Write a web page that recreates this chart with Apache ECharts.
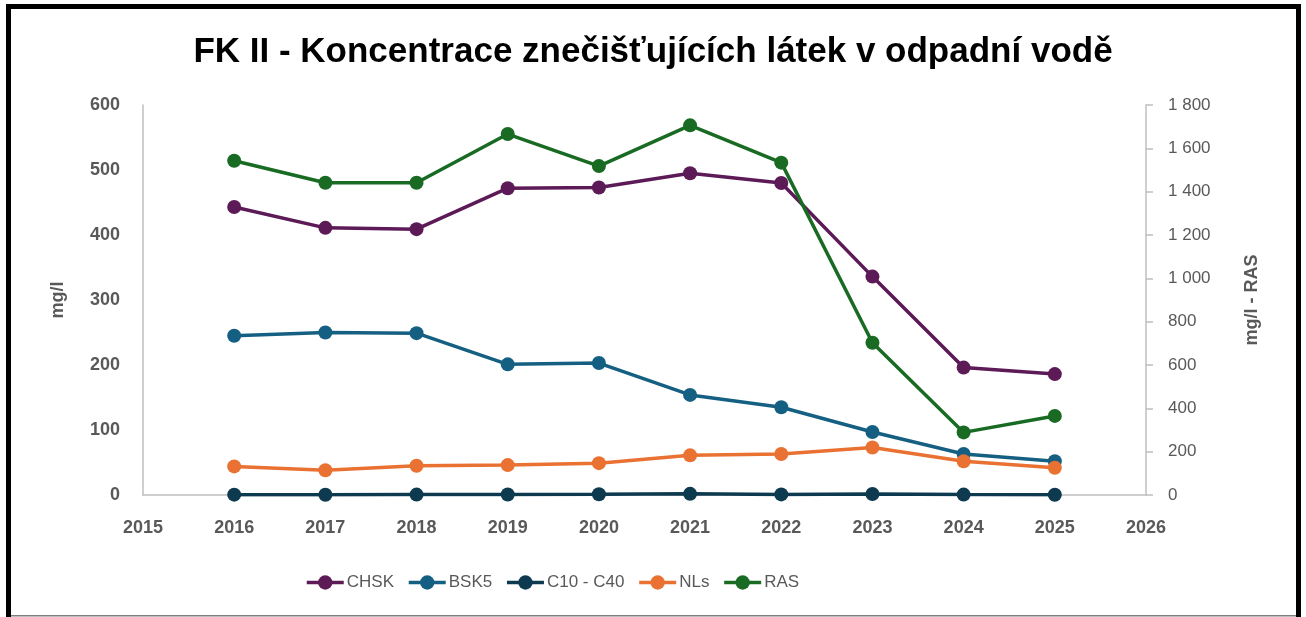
<!DOCTYPE html>
<html>
<head>
<meta charset="utf-8">
<script src="https://cdn.jsdelivr.net/npm/echarts@6/dist/echarts.min.js"></script>
<style>
html,body{margin:0;padding:0;background:#fff;}
#chart{width:1306px;height:617px;}
</style>
</head>
<body>
<div id="chart"></div>
<script>
const years = [2016, 2017, 2018, 2019, 2020, 2021, 2022, 2023, 2024, 2025];
const chsk = [443, 411, 409, 472, 473, 495, 480, 336, 196, 186];
const bsk5 = [245, 250, 249, 201, 203, 154, 135, 97, 63, 52];
const c10c40 = [0.5, 0.4, 0.6, 0.8, 1.2, 1.8, 0.9, 1.5, 0.6, 0.4];
const nls = [44, 38, 45, 46, 49, 61, 63, 73, 52, 42];
const ras = [1543, 1441, 1441, 1666, 1518, 1706, 1534, 703, 289, 365];

const seriesDefs = [
  { name: 'CHSK', data: chsk, color: '#5C1A57', axis: 0 },
  { name: 'BSK5', data: bsk5, color: '#156082', axis: 0 },
  { name: 'C10 - C40', data: c10c40, color: '#0E3A50', axis: 0 },
  { name: 'NLs', data: nls, color: '#E97132', axis: 0 },
  { name: 'RAS', data: ras, color: '#196B24', axis: 1 }
];

const font = 'Liberation Sans, Arial, sans-serif';
const gray = '#595959';

const chart = echarts.init(document.getElementById('chart'), null, { renderer: 'canvas' });
chart.setOption({
  animation: false,
  backgroundColor: '#fff',
  title: {
    text: 'FK II - Koncentrace znečišťujících látek v odpadní vodě',
    left: 'center',
    top: 30,
    textStyle: { fontFamily: font, fontSize: 35, fontWeight: 'bold', color: '#000' }
  },
  legend: {
    top: 569,
    left: 300,
    itemWidth: 37,
    itemHeight: 18,
    itemGap: 13,
    lineStyle: { width: 3.5 },
    textStyle: { fontFamily: font, fontSize: 17, color: gray, padding: [0, 0, 0, -2] },
    data: seriesDefs.map(s => s.name)
  },
  grid: { left: 143, right: 160, top: 105, bottom: 122 },
  xAxis: {
    type: 'value',
    min: 2015, max: 2026, interval: 1,
    axisLine: { show: true, lineStyle: { color: '#BFBFBF', width: 1.5 } },
    axisTick: { show: false },
    splitLine: { show: false },
    axisLabel: { fontFamily: font, fontSize: 18, fontWeight: 'bold', color: gray, margin: 24, formatter: v => String(v) }
  },
  yAxis: [
    {
      type: 'value', min: 0, max: 600, interval: 100,
      name: 'mg/l', nameLocation: 'middle', nameGap: 76, nameRotate: 90,
      nameTextStyle: { fontFamily: font, fontSize: 18, fontWeight: 'bold', color: gray },
      axisLine: { show: true, lineStyle: { color: '#BFBFBF', width: 1.5 } },
      axisTick: { show: false },
      splitLine: { show: false },
      axisLabel: { fontFamily: font, fontSize: 18, fontWeight: 'bold', color: gray, margin: 23 }
    },
    {
      type: 'value', min: 0, max: 1800, interval: 200, position: 'right',
      name: 'mg/l - RAS', nameLocation: 'middle', nameGap: 97, nameRotate: 90,
      nameTextStyle: { fontFamily: font, fontSize: 18, fontWeight: 'bold', color: gray },
      axisLine: { show: true, lineStyle: { color: '#BFBFBF', width: 1.5 } },
      axisTick: { show: true, length: 7, lineStyle: { color: '#BFBFBF', width: 1.5 } },
      splitLine: { show: false },
      axisLabel: {
        fontFamily: font, fontSize: 17, color: gray, margin: 22,
        formatter: v => String(v).replace(/\B(?=(\d{3})+(?!\d))/g, ' ')
      }
    }
  ],
  series: seriesDefs.map(s => ({
    name: s.name,
    type: 'line',
    yAxisIndex: s.axis,
    data: years.map((y, i) => [y, s.data[i]]),
    symbol: 'circle',
    symbolSize: 14,
    itemStyle: { color: s.color },
    lineStyle: { color: s.color, width: 3.5 }
  })),
  graphic: [
    { type: 'rect', shape: { x: 6, y: 4, width: 1295, height: 5 }, style: { fill: '#000' }, z: 100 },
    { type: 'rect', shape: { x: 6, y: 4, width: 5, height: 613 }, style: { fill: '#000' }, z: 100 },
    { type: 'rect', shape: { x: 1296, y: 4, width: 5, height: 613 }, style: { fill: '#000' }, z: 100 },
    { type: 'rect', shape: { x: 11, y: 615, width: 1285, height: 1.5 }, style: { fill: '#7F7F7F' }, z: 100 }
  ]
});
</script>
</body>
</html>
